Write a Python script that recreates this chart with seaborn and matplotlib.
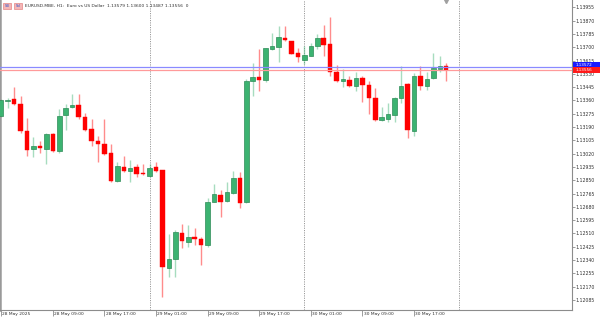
import matplotlib
matplotlib.use("Agg")
import matplotlib.pyplot as plt
import matplotlib.transforms as mtrans
from matplotlib.patches import Rectangle
import seaborn as sns
import pandas as pd

# ---------------- data (EURUSD.MBE, H1, 28 May 01:00 .. 30 May 22:00) ----------------
opens = [1.13262, 1.13356, 1.13369, 1.13335, 1.13163, 1.13050, 1.13067, 1.13050, 1.13144, 1.13037,
         1.13269, 1.13316, 1.13331, 1.13254, 1.13175, 1.13103, 1.13082, 1.13026, 1.12845, 1.12935,
         1.12911, 1.12933, 1.12891, 1.12879, 1.12933, 1.12915, 1.12287, 1.12347, 1.12511, 1.12455,
         1.12481, 1.12476, 1.12438, 1.12711, 1.12754, 1.12715, 1.12770, 1.12862, 1.12713, 1.13486,
         1.13508, 1.13490, 1.13689, 1.13703, 1.13761, 1.13740, 1.13661, 1.13620, 1.13644, 1.13708,
         1.13757, 1.13721, 1.13540, 1.13487, 1.13492, 1.13452, 1.13501, 1.13460, 1.13374, 1.13233,
         1.13244, 1.13268, 1.13374, 1.13465, 1.13166, 1.13516, 1.13454, 1.13503, 1.13563, 1.13579]
highs = [1.13369, 1.13374, 1.13444, 1.13388, 1.13246, 1.13124, 1.13101, 1.13150, 1.13150, 1.13303,
         1.13335, 1.13399, 1.13401, 1.13282, 1.13239, 1.13133, 1.13241, 1.13082, 1.12965, 1.13005,
         1.12979, 1.12954, 1.12954, 1.12954, 1.12968, 1.12918, 1.12506, 1.12532, 1.12570, 1.12564,
         1.12547, 1.12485, 1.12735, 1.12826, 1.12788, 1.12837, 1.12911, 1.12901, 1.13494, 1.13597,
         1.13687, 1.13697, 1.13793, 1.13835, 1.13835, 1.13743, 1.13693, 1.13708, 1.13725, 1.13784,
         1.13842, 1.13891, 1.13586, 1.13559, 1.13518, 1.13544, 1.13516, 1.13484, 1.13437, 1.13318,
         1.13342, 1.13382, 1.13580, 1.13471, 1.13537, 1.13580, 1.13544, 1.13665, 1.13644, 1.13600]
lows = [1.13254, 1.13310, 1.13333, 1.13150, 1.13005, 1.13000, 1.13022, 1.12952, 1.13032, 1.13026,
        1.13171, 1.13315, 1.13239, 1.13163, 1.13071, 1.12965, 1.13009, 1.12837, 1.12837, 1.12905,
        1.12837, 1.12873, 1.12883, 1.12873, 1.12905, 1.12106, 1.12234, 1.12234, 1.12415, 1.12425,
        1.12436, 1.12308, 1.12425, 1.12709, 1.12617, 1.12714, 1.12760, 1.12674, 1.12705, 1.13388,
        1.13422, 1.13480, 1.13685, 1.13607, 1.13742, 1.13655, 1.13604, 1.13593, 1.13642, 1.13687,
        1.13644, 1.13516, 1.13480, 1.13448, 1.13448, 1.13422, 1.13352, 1.13273, 1.13231, 1.13231,
        1.13224, 1.13224, 1.13342, 1.13122, 1.13134, 1.13427, 1.13427, 1.13495, 1.13544, 1.13487]
closes = [1.13363, 1.13361, 1.13335, 1.13166, 1.13045, 1.13069, 1.13056, 1.13144, 1.13039, 1.13260,
          1.13312, 1.13333, 1.13252, 1.13171, 1.13103, 1.13082, 1.13018, 1.12843, 1.12939, 1.12909,
          1.12930, 1.12892, 1.12888, 1.12930, 1.12912, 1.12294, 1.12349, 1.12521, 1.12460, 1.12485,
          1.12477, 1.12434, 1.12709, 1.12760, 1.12713, 1.12777, 1.12862, 1.12706, 1.13486, 1.13508,
          1.13492, 1.13693, 1.13708, 1.13763, 1.13744, 1.13659, 1.13639, 1.13648, 1.13708, 1.13759,
          1.13714, 1.13540, 1.13486, 1.13490, 1.13452, 1.13505, 1.13460, 1.13374, 1.13235, 1.13252,
          1.13272, 1.13375, 1.13454, 1.13171, 1.13516, 1.13454, 1.13497, 1.13565, 1.13580, 1.13556]

time_labels = ["28 May 2025", "28 May 09:00", "28 May 17:00", "29 May 01:00", "29 May 09:00",
               "29 May 17:00", "30 May 01:00", "30 May 09:00", "30 May 17:00"]
time_label_bars = [0, 8, 16, 24, 32, 40, 48, 56, 64]
day_start_bars = [23, 47, 71]
price_ticks = [1.13955, 1.13870, 1.13785, 1.13700, 1.13615, 1.13530, 1.13445, 1.13360, 1.13275,
               1.13190, 1.13105, 1.13020, 1.12935, 1.12850, 1.12765, 1.12680, 1.12595, 1.12510,
               1.12425, 1.12340, 1.12255, 1.12170, 1.12085]
bid_price = 1.13556
ask_price = 1.13572
title_text = "EURUSD.MBE, H1:  Euro vs US Dollar  1.13579 1.13600 1.13487 1.13556  0"

df = pd.DataFrame({"bar": range(len(opens)), "open": opens, "high": highs,
                   "low": lows, "close": closes})
df["up"] = df["close"] >= df["open"]

# ---------------- style ----------------
sns.set_theme(style="white")
plt.rcParams["font.family"] = ["DejaVu Sans"]

W, H = 600, 321
fig = plt.figure(figsize=(W / 100, H / 100), dpi=100)
ax = fig.add_axes([0.0, 11 / H, 572 / W, 310 / H])

GREEN = "#3cb371"
GREEN_EDGE = "#2e8b57"
RED = "#ff0000"

ax.set_xlim(-0.19, 88.5)
ax.set_ylim(1.12021, 1.14002)
px = (1.14002 - 1.12021) / 310.0  # price per pixel

# wicks
for up, col in [(True, GREEN), (False, RED)]:
    d = df[df["up"] == up]
    ax.vlines(d["bar"], d["low"], d["high"], color=col, lw=1.0, alpha=0.45, zorder=2)

# bodies
body_h = (df["close"] - df["open"]).abs().clip(lower=1.2 * px)
body_b = df[["open", "close"]].min(axis=1)
up = df["up"]
ax.bar(df["bar"][up], body_h[up], bottom=body_b[up], width=0.70,
       color=GREEN, edgecolor=GREEN_EDGE, linewidth=0.5, zorder=3)
ax.bar(df["bar"][~up], body_h[~up], bottom=body_b[~up], width=0.70,
       color=RED, edgecolor=RED, linewidth=0.3, zorder=3)

# day separators
for b in day_start_bars:
    ax.axvline(b, color="#9a9a9a", lw=0.7, ls=(0, (1.2, 1.2)), zorder=1)

# bid / ask lines
ax.axhline(ask_price, color="#8a8aff", lw=0.9, zorder=4)
ax.axhline(bid_price, color="#ff9a9a", lw=0.9, zorder=4)

# shift marker at top
ax.plot([len(opens) - 1], [1.14002 - 1.0 * px], marker="v", color="#a0a0a0", ms=3.0,
        clip_on=False, zorder=5)

# spines
ax.spines["top"].set_visible(False)
for s in ["left", "right", "bottom"]:
    ax.spines[s].set_visible(True)
    ax.spines[s].set_color("#8c8c8c")
    ax.spines[s].set_linewidth(0.8)
ax.spines["left"].set_linewidth(1.8)
ax.spines["left"].set_color("#9a9a9a")

# y ticks on the right
ax.yaxis.tick_right()
ax.set_yticks(price_ticks)
ax.set_yticklabels([f"{v:.5f}" for v in price_ticks])
ax.tick_params(axis="y", which="major", right=True, left=False, direction="out",
               length=2.2, width=0.6, color="#8c8c8c", labelsize=3.3,
               labelcolor="#303030", pad=0.6)

# x ticks
ax.set_xticks(time_label_bars)
ax.set_xticklabels(time_labels, ha="left")
ax.tick_params(axis="x", which="major", bottom=True, direction="out", length=4.0,
               width=0.6, color="#8c8c8c", labelsize=3.2, labelcolor="#303030", pad=-2.6)
off = mtrans.ScaledTranslation(1.2 / 100, 0, fig.dpi_scale_trans)
for lbl in ax.get_xticklabels():
    lbl.set_transform(lbl.get_transform() + off)

# price labels on the right axis (ask box nudged up so the two labels stay readable)
blend = mtrans.blended_transform_factory(fig.transFigure, ax.transData)
for price, nudge, col in [(ask_price, 2.5, "#1a1aff"), (bid_price, -0.2, "#ff1a1a")]:
    yc = price + nudge * px
    ax.add_patch(Rectangle((573 / W, yc - 2.6 * px), 27 / W, 5.2 * px, transform=blend,
                           facecolor=col, edgecolor="none", clip_on=False, zorder=6))
    ax.text(575.5 / W, yc, f"{price:.5f}", transform=blend, color="white",
            fontsize=3.0, va="center", ha="left", clip_on=False, zorder=7)

# header: icons + info text
fig.add_artist(Rectangle((2.5 / W, 1 - 9 / H), 8 / W, 6.5 / H, transform=fig.transFigure,
                         facecolor="#f4b6b6", edgecolor="#e07070", lw=0.4))
fig.add_artist(Rectangle((14 / W, 1 - 9 / H), 8 / W, 6.5 / H, transform=fig.transFigure,
                         facecolor="#f4b6b6", edgecolor="#e07070", lw=0.4))
fig.text(4.5 / W, 1 - 6 / H, "SB", fontsize=2.6, color="#2050d0", va="center", ha="left")
fig.text(15.5 / W, 1 - 6 / H, "Sd", fontsize=2.6, color="#2050d0", va="center", ha="left")
fig.text(25 / W, 1 - 6.2 / H, title_text, fontsize=3.2, color="#303030",
         va="center", ha="left")

fig.savefig("out.png", dpi=100, facecolor="white")
